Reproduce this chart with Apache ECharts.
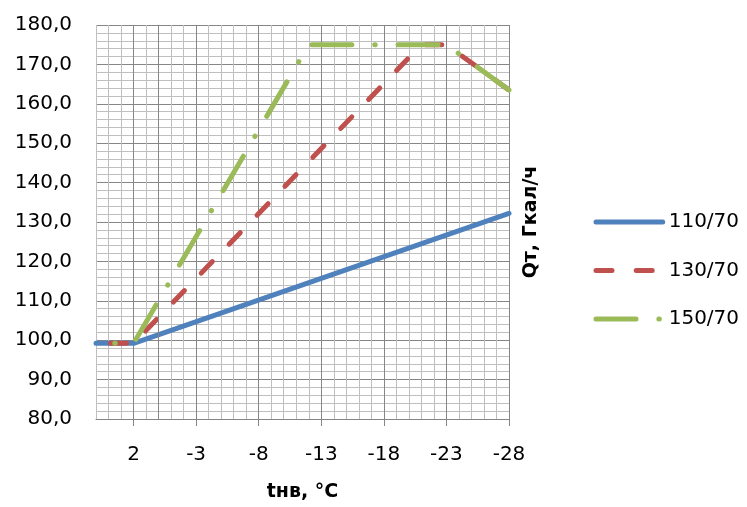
<!DOCTYPE html>
<html>
<head>
<meta charset="utf-8">
<script src="https://cdn.jsdelivr.net/npm/echarts@6/dist/echarts.min.js"></script>
<style>
html,body{margin:0;padding:0;background:#fff;}
#chart{width:747px;height:507px;}
</style>
</head>
<body>
<div id="chart"></div>
<script>
// Categories of the x axis (outdoor temperature, °C)
const categories = ['5','4','3','2','1','0','-1','-2','-3','-4','-5','-6','-7','-8','-9','-10','-11','-12','-13','-14','-15','-16','-17','-18','-19','-20','-21','-22','-23','-24','-25','-26','-27','-28'];
const tickLabels = ['2','-3','-8','-13','-18','-23','-28'];

// Series break points
const s110x = ['5','2','-28'];
const s110y = [99.2, 99.2, 132.2];
const s130x = ['5','2','-21','-23','-28'];
const s130y = [99.2, 99.2, 175.0, 175.0, 163.5];
const s150x = ['5','2','-12','-23','-28'];
const s150y = [99.2, 99.2, 175.0, 175.0, 163.5];

const seriesNames = ['110/70','130/70','150/70'];
const axisZeroCat = '0';

const FONT = 'DejaVu Sans';
const LIGHT = '#BFBFBF';
const DARK = '#868686';
const W = 5;
const DASH130 = [16, 24.2];
const DASH150 = [40, 22.85, 0.5, 22.85];

function zip(xs, ys){ return xs.map((x,i)=>[x, ys[i]]); }
const showTick = (idx) => tickLabels.indexOf(categories[idx]) >= 0;

const chart = echarts.init(document.getElementById('chart'), null, {renderer:'canvas'});
chart.setOption({
  backgroundColor:'#fff',
  animation:false,
  grid:{left:96, right:238, top:25, bottom:87, containLabel:false},
  legend:{
    orient:'vertical', left:588.5, top:207, padding:5, itemWidth:66.7, itemHeight:20, itemGap:28.5,
    textStyle:{fontFamily:FONT, fontSize:20, color:'#000', lineHeight:20, padding:[0,0,0,1]},
    itemStyle:{opacity:0},
    data:[
      {name:seriesNames[0], itemStyle:{opacity:0}, lineStyle:{width:W, cap:'round', type:'solid'}},
      {name:seriesNames[1], itemStyle:{opacity:0}, lineStyle:{width:W, cap:'round', type:DASH130, dashOffset:0}},
      {name:seriesNames[2], itemStyle:{opacity:0}, lineStyle:{width:W, cap:'round', type:DASH150, dashOffset:0}}
    ]
  },
  xAxis:{
    type:'category', data:categories, boundaryGap:false,
    axisLine:{show:true, lineStyle:{color:DARK, width:1}},
    axisTick:{show:true, interval:showTick, length:7, lineStyle:{color:DARK, width:1}},
    axisLabel:{interval:showTick, margin:26, fontFamily:FONT, fontSize:20, color:'#000'},
    splitLine:{show:true, interval:0, lineStyle:{color:[LIGHT,LIGHT,LIGHT,DARK,LIGHT], width:1}},
    name:'tнв, °C', nameLocation:'middle', nameGap:64,
    nameTextStyle:{fontFamily:FONT, fontSize:19, fontWeight:'bold', color:'#000'}
  },
  yAxis:[{
    type:'value', min:80, max:180, interval:10,
    axisLine:{show:false}, axisTick:{show:false},
    axisLabel:{margin:24, fontFamily:FONT, fontSize:20, color:'#000',
      formatter:(v)=>v.toFixed(1).replace('.',',')},
    splitLine:{show:true, lineStyle:{color:DARK, width:1}},
    minorTick:{show:false, splitNumber:5},
    minorSplitLine:{show:true, lineStyle:{color:LIGHT, width:1}}
  },{
    type:'value', min:80, max:180, position:'right',
    axisLine:{show:false}, axisTick:{show:false}, axisLabel:{show:false}, splitLine:{show:false},
    name:'Qт, Гкал/ч', nameLocation:'middle', nameRotate:90, nameGap:13,
    nameTextStyle:{fontFamily:FONT, fontSize:19, fontWeight:'bold', color:'#000'}
  }],
  series:[
    {type:'line', name:'axis0', data:[], z:1, silent:true,
      markLine:{silent:true, symbol:'none', label:{show:false},
        lineStyle:{color:DARK, width:1, type:'solid'}, data:[{xAxis:axisZeroCat}]}},
    {type:'line', name:seriesNames[0], data:zip(s110x,s110y), symbol:'none',
      color:'#4F81BD', lineStyle:{color:'#4F81BD', width:W, cap:'round', join:'round'}},
    {type:'line', name:seriesNames[1], data:zip(s130x,s130y), symbol:'none',
      color:'#C0504D', lineStyle:{color:'#C0504D', width:W, cap:'round', join:'round', type:DASH130, dashOffset:25.7}},
    {type:'line', name:seriesNames[2], data:zip(s150x,s150y), symbol:'none',
      color:'#9BBB59', lineStyle:{color:'#9BBB59', width:W, cap:'round', join:'round', type:DASH150, dashOffset:44.1}}
  ]
});
</script>
</body>
</html>
